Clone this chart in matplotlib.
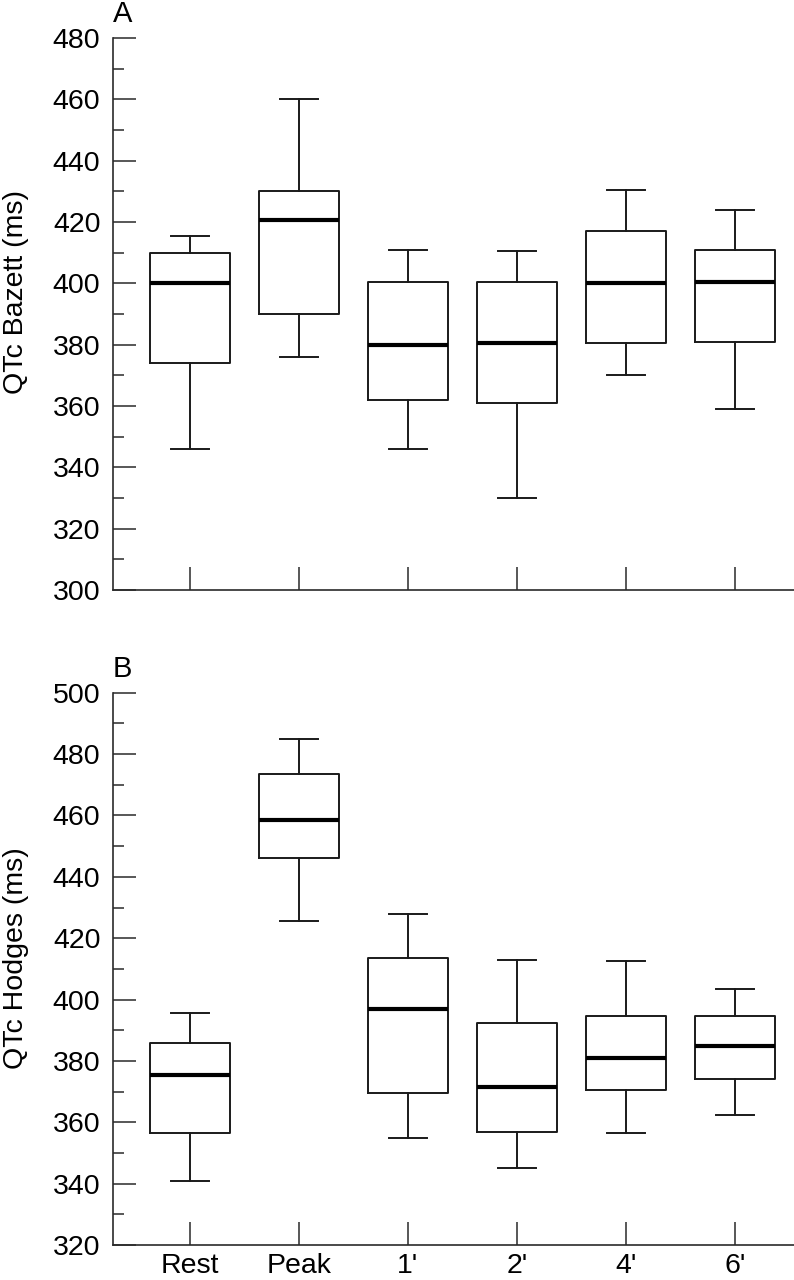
import matplotlib
matplotlib.use("Agg")
import matplotlib.pyplot as plt
from matplotlib.ticker import MultipleLocator

plt.rcParams['font.family'] = ['Liberation Sans', 'DejaVu Sans']

stages = ["Rest", "Peak", "1'", "2'", "4'", "6'"]

# panel A: QTc Bazett (ms)
bazett_low = [346, 376, 346, 330, 370, 359]
bazett_q1 = [374, 390, 362, 361, 380.5, 381]
bazett_med = [400, 420.5, 380, 380.5, 400, 400.5]
bazett_q3 = [410, 430, 400.5, 400.5, 417, 411]
bazett_high = [415.5, 460, 411, 410.5, 430.5, 424]

# panel B: QTc Hodges (ms)
hodges_low = [341, 425.5, 355, 345, 356.5, 362.5]
hodges_q1 = [356.5, 446, 369.5, 357, 370.5, 374]
hodges_med = [375.5, 458.5, 397, 371.5, 381, 385]
hodges_q3 = [386, 473.5, 413.5, 392.5, 394.5, 394.5]
hodges_high = [395.5, 485, 428, 413, 412.5, 403.5]

line_col = "#1a1a1a"


def make_stats(low, q1, med, q3, high):
    return [dict(whislo=a, q1=b, med=c, q3=d, whishi=e, fliers=[], label=s)
            for a, b, c, d, e, s in zip(low, q1, med, q3, high, stages)]


def draw_panel(ax, stats, ylim, ylabel, label_y, letter, show_xlabels):
    ax.bxp(stats, positions=range(len(stats)), widths=0.734, capwidths=0.35,
           showfliers=False,
           boxprops=dict(color=line_col, linewidth=1.4),
           whiskerprops=dict(color=line_col, linewidth=1.4),
           capprops=dict(color=line_col, linewidth=1.4),
           medianprops=dict(color="black", linewidth=3.0))
    ax.set_xlim(-0.706, 5.541)
    ax.set_ylim(*ylim)
    ax.yaxis.set_major_locator(MultipleLocator(20))
    ax.yaxis.set_minor_locator(MultipleLocator(10))
    ax.spines['top'].set_visible(False)
    ax.spines['right'].set_visible(False)
    for sp in ('left', 'bottom'):
        ax.spines[sp].set_color("#2a2a2a")
        ax.spines[sp].set_linewidth(1.2)
    ax.tick_params(axis='y', which='major', direction='in', length=16.5,
                   width=1.1, color="#2a2a2a", labelsize=20.5, pad=9)
    ax.tick_params(axis='y', which='minor', direction='in', length=8,
                   width=1.1, color="#2a2a2a")
    ax.tick_params(axis='x', direction='in', length=16.5, width=1.1,
                   color="#2a2a2a", labelsize=20.5, pad=6)
    ax.set_xticks(range(len(stages)))
    if show_xlabels:
        ax.set_xticklabels(stages)
    else:
        ax.set_xticklabels([])
    ax.set_ylabel(ylabel, fontsize=20.5)
    ax.yaxis.set_label_coords(-0.123, label_y)
    ax.text(0.0, 1.018, letter, transform=ax.transAxes, fontsize=21,
            ha='left', va='bottom')


fig = plt.figure(figsize=(7.94, 12.8), dpi=100)
ax_a = fig.add_axes([0.1423, 0.5391, 0.8577, 0.4313])
ax_b = fig.add_axes([0.1423, 0.0273, 0.8577, 0.4315])

draw_panel(ax_a, make_stats(bazett_low, bazett_q1, bazett_med, bazett_q3, bazett_high),
           (300, 480), "QTc Bazett (ms)", 0.54, "A", False)
draw_panel(ax_b, make_stats(hodges_low, hodges_q1, hodges_med, hodges_q3, hodges_high),
           (320, 500), "QTc Hodges (ms)", 0.52, "B", True)

fig.savefig("out.png", dpi=100, facecolor="white")
